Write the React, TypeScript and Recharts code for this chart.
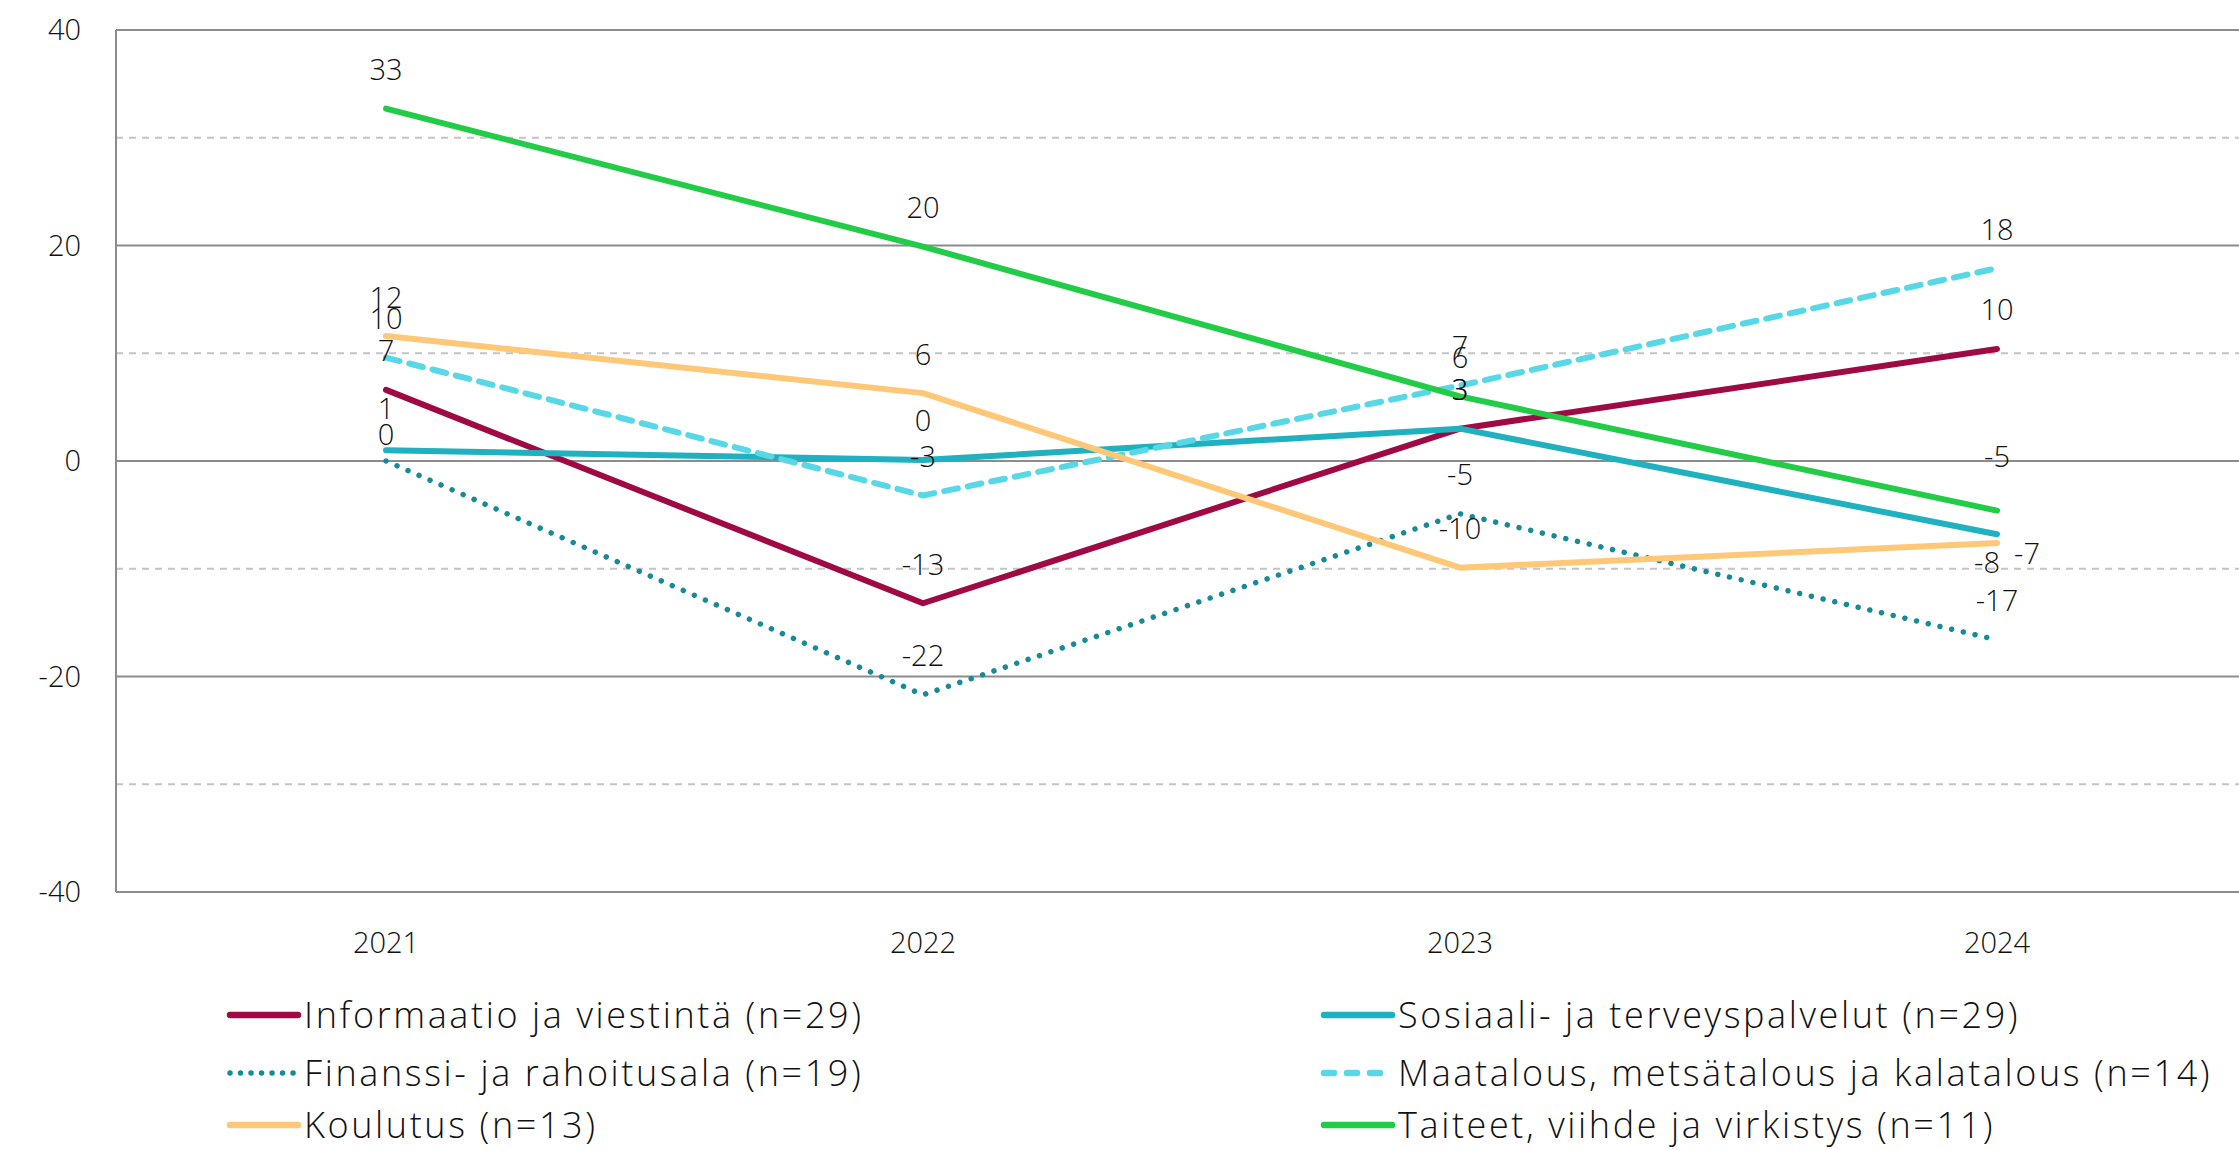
import React from 'react';
import { LineChart, Line, XAxis, YAxis, CartesianGrid, ReferenceLine, LabelList } from 'recharts';

const years = ['2021', '2022', '2023', '2024'];
const informaatio = [6.6, -13.2, 3.0, 10.4];
const sosiaali = [1.0, 0.1, 3.0, -6.8];
const finanssi = [0.0, -21.7, -4.9, -16.6];
const maatalous = [9.6, -3.2, 7.0, 17.9];
const koulutus = [11.6, 6.3, -9.9, -7.6];
const taiteet = [32.7, 19.9, 6.0, -4.6];
const yTicks = [-40, -20, 0, 20, 40];
const minorTicks = [-30, -10, 10, 30];

const seriesNames = [
  'Informaatio ja viestintä (n=29)',
  'Sosiaali- ja terveyspalvelut (n=29)',
  'Finanssi- ja rahoitusala (n=19)',
  'Maatalous, metsätalous ja kalatalous (n=14)',
  'Koulutus (n=13)',
  'Taiteet, viihde ja virkistys (n=11)',
];

const data = years.map((y, i) => ({
  year: y,
  informaatio: informaatio[i],
  sosiaali: sosiaali[i],
  finanssi: finanssi[i],
  maatalous: maatalous[i],
  koulutus: koulutus[i],
  taiteet: taiteet[i],
}));

const FONT = '"Open Sans", Lato, sans-serif';

type S = { key: string; name: string; color: string; dash?: string; width: number; legendDash?: string };
const series: S[] = [
  { key: 'informaatio', name: seriesNames[0], color: '#A00A44', width: 6 },
  { key: 'sosiaali', name: seriesNames[1], color: '#1FB1BF', width: 6 },
  { key: 'finanssi', name: seriesNames[2], color: '#168B97', dash: '0.01 12', width: 5.5, legendDash: '0.01 10.5' },
  { key: 'maatalous', name: seriesNames[3], color: '#58D8E6', dash: '14 10', width: 6, legendDash: '10 13' },
  { key: 'koulutus', name: seriesNames[4], color: '#FFC878', width: 6 },
  { key: 'taiteet', name: seriesNames[5], color: '#22CC47', width: 6 },
];

// label offsets (dx, dy) relative to point; default is centered 40px above
const labelOffsets: Record<string, Record<number, [number, number]>> = {
  sosiaali: { 0: [0, -43], 3: [30, 18] },
  koulutus: { 3: [-10, 19] },
  finanssi: { 0: [0, -28] },
  taiteet: { 3: [0, -55] },
};

const makeLabel = (key: string) => (props: any) => {
  const { x, y, value, index } = props;
  const o = (labelOffsets[key] && labelOffsets[key][index]) || [0, -40];
  return (
    <text
      x={x + o[0]}
      y={y + o[1]}
      textAnchor="middle"
      dominantBaseline="central"
      fontFamily={FONT}
      fontWeight={300}
      fontSize={29}
      fill="#111"
    >
      {String(Math.round(value))}
    </text>
  );
};

const ChartLegend = () => {
  const cols = [226, 1320];
  const rows = [1015, 1073, 1125];
  return (
    <div style={{ position: 'absolute', left: 0, top: 0, width: 2239, height: 1150, pointerEvents: 'none' }}>
      {series.map((s, i) => {
        const col = i % 2;
        const row = Math.floor(i / 2);
        return (
          <div
            key={s.key}
            style={{
              position: 'absolute',
              left: cols[col],
              top: rows[row] - 20,
              height: 40,
              display: 'flex',
              alignItems: 'center',
              whiteSpace: 'nowrap',
            }}
          >
            <svg width={76} height={14} style={{ marginRight: 2, flex: 'none' }}>
              <line
                x1={4}
                y1={7}
                x2={72}
                y2={7}
                stroke={s.color}
                strokeWidth={s.legendDash === '0.01 10.5' ? 5.5 : 6.5}
                strokeLinecap="round"
                strokeDasharray={s.legendDash}
              />
            </svg>
            <span
              style={{
                fontFamily: FONT,
                fontSize: 36,
                letterSpacing: '2.6px',
                lineHeight: '38px',
                color: '#111',
                fontWeight: 300,
              }}
            >
              {s.name}
            </span>
          </div>
        );
      })}
    </div>
  );
};

export default function App() {
  return (
    <div style={{ position: 'absolute', left: 0, top: 0, width: 2239, height: 1150, background: '#fff', overflow: 'hidden' }}>
      <LineChart
        width={2239}
        height={1150}
        data={data}
        margin={{ top: 30, right: 0, bottom: 228, left: 0 }}
      >
        <CartesianGrid
          horizontalValues={minorTicks}
          vertical={false}
          stroke="#C4C4C4"
          strokeWidth={2}
          strokeDasharray="7 6"
        />
        {yTicks.map((t) => (
          <ReferenceLine key={t} y={t} stroke="#8C8C8C" strokeWidth={2} />
        ))}
        <XAxis
          dataKey="year"
          height={30}
          tickLine={false}
          axisLine={false}
          tickSize={0}
          tickMargin={40}
          padding={{ left: 270, right: 242 }}
          tick={{ fontFamily: FONT, fontSize: 29, fill: '#111', fontWeight: 300 }}
          interval={0}
        />
        <YAxis
          domain={[-40, 40]}
          ticks={yTicks}
          width={116}
          tickLine={false}
          tickSize={0}
          tickMargin={35}
          axisLine={{ stroke: '#8C8C8C', strokeWidth: 2 }}
          tick={{ fontFamily: FONT, fontSize: 29, fill: '#111', fontWeight: 300 }}
          interval={0}
        />
        {series.map((s) => (
          <Line
            key={s.key}
            dataKey={s.key}
            name={s.name}
            stroke={s.color}
            strokeWidth={s.width}
            strokeDasharray={s.dash}
            strokeLinecap="round"
            strokeLinejoin="round"
            dot={false}
            activeDot={false}
            type="linear"
            isAnimationActive={false}
          >
            <LabelList dataKey={s.key} content={makeLabel(s.key)} />
          </Line>
        ))}
      </LineChart>
      <ChartLegend />
    </div>
  );
}
